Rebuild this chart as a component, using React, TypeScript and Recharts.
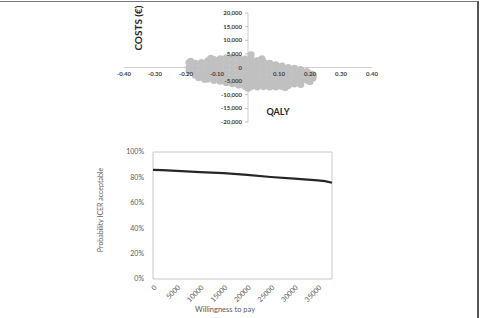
import {
  ScatterChart,
  Scatter,
  XAxis,
  YAxis,
  ReferenceLine,
  LineChart,
  Line,
  ReferenceArea,
} from 'recharts';

// cost-effectiveness plane: QALY columns and the simulated costs read in each column
const qalyCols = [
  -0.19, -0.17, -0.15, -0.13, -0.11, -0.09, -0.07, -0.05, -0.03, -0.01, 0.01,
  0.03, 0.05, 0.07, 0.09, 0.11, 0.13, 0.15, 0.17, 0.19, 0.21,
];
const costCols = [
  [1800, 0, -1200],
  [1500, -300, -2100, -2800],
  [1800, 0, -1800, -3500],
  [2400, 600, -1200, -3000, -4200],
  [2900, 1100, -700, -2500, -4300, -4700],
  [3200, 1400, -400, -2200, -4000, -5000],
  [3500, 1700, -100, -1900, -3700, -5500],
  [3600, 1800, 0, -1800, -3600, -5400, -5900],
  [3400, 1600, -200, -2000, -3800, -5600, -6400],
  [3100, 1300, -500, -2300, -4100, -5900, -6800],
  [4600, 2900, 1100, -700, -2500, -4300, -6100, -7000],
  [2500, 700, -1100, -2900, -4700, -6500, -7100],
  [2000, 200, -1600, -3400, -5200, -7000],
  [1500, -300, -2100, -3900, -5700, -7100],
  [1000, -800, -2600, -4400, -6200, -7100],
  [500, -1300, -3100, -4900, -6700, -7000],
  [0, -1800, -3600, -5400, -6600],
  [-300, -2100, -3900, -5700, -6000],
  [-800, -2600, -4400, -5300],
  [-1500, -3100, -4600],
  [-2800, -3800],
];
const strayQaly = [-0.185, -0.16, -0.12, 0.045, 0.12, 0.2, 0.205, -0.14, 0.17, 0.0];
const strayCost = [2300, -3700, 3400, 3200, -7300, -5100, -2400, -4300, -6200, -7600];

const qalyTicks = [-0.4, -0.3, -0.2, -0.1, 0.1, 0.2, 0.3, 0.4];
const costTicks = [20000, 15000, 10000, 5000, 0, -5000, -10000, -15000, -20000];

// acceptability curve
const wtp = [0, 2000, 5000, 10000, 15000, 20000, 25000, 30000, 35000, 36500, 38000];
const probAcc = [86, 85.8, 85.2, 84.2, 83.3, 82, 80.3, 79, 77.6, 77, 75.8];
const wtpTicks = [0, 5000, 10000, 15000, 20000, 25000, 30000, 35000];
const probTicks = [0, 20, 40, 60, 80, 100];

const cloud = [
  ...qalyCols.flatMap((q, i) => costCols[i].map((c) => ({ qaly: q, cost: c }))),
  ...strayQaly.map((q, i) => ({ qaly: q, cost: strayCost[i] })),
];
const curve = wtp.map((w, i) => ({ wtp: w, p: probAcc[i] }));

const FONT = 'Lato, "Liberation Sans", sans-serif';
const TICK = '#404040';

// top chart layout
const TOP = { top: 13, right: 108, bottom: 0, left: 120 };
const ZERO_X = 248;
const ZERO_Y = 67.5;

const QalyTick = ({ x, payload }: any) => (
  <text x={x} y={ZERO_Y + 8.5} textAnchor="middle" fontSize={6} fontWeight={700} fill={TICK} fontFamily={FONT}>
    {payload.value.toFixed(2)}
  </text>
);

const CostTick = ({ y, payload }: any) => (
  <g>
    <line x1={ZERO_X - 3} x2={ZERO_X} y1={y} y2={y} stroke="#bfbfbf" />
    <text x={ZERO_X - 6} y={y} dy={2} textAnchor="end" fontSize={6} fontWeight={700} fill={TICK} fontFamily={FONT}>
      {payload.value.toLocaleString('en-US')}
    </text>
  </g>
);

const WtpTick = ({ x, y, payload }: any) => (
  <text
    x={x + 2}
    y={y + 5}
    transform={`rotate(-45 ${x + 2} ${y + 5})`}
    textAnchor="end"
    dominantBaseline="central"
    fontSize={7}
    fill="#595959"
    fontFamily={FONT}
  >
    {payload.value}
  </text>
);

const ProbTick = ({ x, y, payload }: any) => (
  <text x={x - 7} y={y} dy={2.4} textAnchor="end" fontSize={7} fill="#595959" fontFamily={FONT}>
    {payload.value}%
  </text>
);

const overlay = (left: number, top: number, rotate: boolean): React.CSSProperties => ({
  position: 'absolute',
  left,
  top,
  transform: `translate(-50%, -50%)${rotate ? ' rotate(-90deg)' : ''}`,
  whiteSpace: 'nowrap',
  fontFamily: FONT,
  lineHeight: 1,
});

export default function App() {
  return (
    <div style={{ position: 'absolute', left: 0, top: 0, width: 480, height: 318, background: '#fff' }}>
      <div
        style={{
          position: 'absolute',
          left: 0,
          top: 1,
          width: 477,
          height: 317,
          borderTop: '1px solid #777',
          borderRight: '2px solid #555',
        }}
      />

      <div style={{ position: 'absolute', left: 0, top: 0 }}>
        <ScatterChart width={480} height={130} margin={TOP}>
          <ReferenceLine y={0} stroke="#d0d0d0" />
          <ReferenceLine x={0} stroke="#d0d0d0" />
          <Scatter
            data={cloud}
            isAnimationActive={false}
            shape={(p: any) => <circle cx={p.cx} cy={p.cy} r={3.6} fill="#c0c0c0" />}
          />
          <XAxis
            type="number"
            dataKey="qaly"
            domain={[-0.4, 0.4]}
            ticks={qalyTicks}
            height={8}
            axisLine={false}
            tickLine={false}
            tick={<QalyTick />}
            interval={0}
          />
          <YAxis
            type="number"
            dataKey="cost"
            domain={[-20000, 20000]}
            ticks={costTicks}
            width={4}
            axisLine={false}
            tickLine={false}
            tick={<CostTick />}
            interval={0}
          />
        </ScatterChart>
      </div>
      <div style={{ ...overlay(138, 28, true), fontSize: 10, fontWeight: 700, color: '#262626' }}>COSTS (€)</div>
      <div style={{ ...overlay(278, 111, false), fontSize: 9, fontWeight: 700, color: '#262626' }}>QALY</div>

      <div style={{ position: 'absolute', left: 0, top: 140 }}>
        <LineChart width={480} height={178} data={curve} margin={{ top: 12, right: 148, bottom: 3, left: 113 }}>
          <ReferenceArea x1={0} x2={38000} y1={0} y2={100} fill="none" stroke="#c8c8c8" />
          <XAxis
            type="number"
            dataKey="wtp"
            domain={[0, 38000]}
            ticks={wtpTicks}
            height={36}
            axisLine={false}
            tickLine={false}
            tickSize={0}
            tick={<WtpTick />}
            interval={0}
          />
          <YAxis
            type="number"
            domain={[0, 100]}
            ticks={probTicks}
            width={40}
            axisLine={false}
            tickLine={false}
            tickSize={0}
            tick={<ProbTick />}
            interval={0}
          />
          <Line
            type="linear"
            dataKey="p"
            stroke="#262626"
            strokeWidth={2.2}
            dot={false}
            isAnimationActive={false}
          />
        </LineChart>
      </div>
      <div style={{ ...overlay(100, 210, true), fontSize: 7, color: '#595959' }}>Probability ICER acceptable</div>
      <div style={{ ...overlay(225, 310, false), fontSize: 7.5, color: '#595959' }}>Willingness to pay</div>
    </div>
  );
}
